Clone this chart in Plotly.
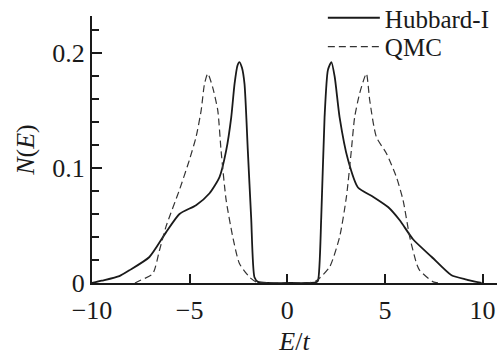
import plotly.graph_objects as go

# Hubbard-I (solid)
hub_E = [-10, -9.5, -8.6, -8.09, -7.06, -6.21, -5.52, -4.67, -3.98, -3.47, -3.13, -2.87, -2.70, -2.55,
         -2.45, -2.32, -2.19, -2.02, -1.85, -1.68, -1.5, -1.0, 0, 1.0, 1.45, 1.57, 1.74, 1.91, 2.08, 2.26,
         2.43, 2.68, 3.11, 3.62, 4.39, 5.16, 5.76, 6.44, 7.40, 8.41, 9.18, 9.95]
hub_N = [0, 0.002, 0.006, 0.011, 0.0226, 0.044, 0.060, 0.0676, 0.078, 0.092, 0.115, 0.144, 0.173, 0.189,
         0.192, 0.187, 0.173, 0.115, 0.057, 0.005, 0.001, 0, 0, 0, 0.0005, 0.002, 0.057, 0.144, 0.185, 0.192,
         0.179, 0.144, 0.107, 0.083, 0.075, 0.066, 0.0545, 0.038, 0.0226, 0.0067, 0.003, 0]

# QMC (dashed)
qmc_E = [-7.8, -7.57, -6.89, -6.55, -6.21, -5.52, -5.01, -4.67, -4.41, -4.24, -4.07, -3.82, -3.56, -3.39,
         -3.13, -2.79, -2.45, -1.93, -1.6, -1.0, 0, 1.0, 1.49, 2.17, 2.68, 3.03, 3.28, 3.45, 3.71, 4.05,
         4.22, 4.56, 5.08, 5.59, 5.93, 6.27, 6.62, 6.78, 7.47, 7.8]
qmc_N = [0, 0.002, 0.008, 0.028, 0.049, 0.081, 0.107, 0.127, 0.150, 0.173, 0.182, 0.170, 0.150, 0.115,
         0.072, 0.040, 0.0169, 0.005, 0.001, 0, 0, 0, 0.002, 0.014, 0.040, 0.075, 0.115, 0.144, 0.165, 0.182,
         0.159, 0.127, 0.1125, 0.092, 0.072, 0.040, 0.0169, 0.011, 0.001, 0]

x_ticks = [-10, -5, 0, 5, 10]
x_ticktext = ["\u221210", "\u22125", "0", "5", "10"]
y_ticks = [0, 0.1, 0.2]
y_ticktext = ["0", "0.1", "0.2"]

FONT = "Times New Roman"
INK = "#1a1a1a"

fig = go.Figure()
fig.add_trace(go.Scatter(x=hub_E, y=hub_N, mode="lines", name="Hubbard-I", legend="legend",
                         line=dict(color=INK, width=1.8, shape="spline", smoothing=0.6)))
fig.add_trace(go.Scatter(x=qmc_E, y=qmc_N, mode="lines", name="QMC", legend="legend2",
                         line=dict(color="#333333", width=1.2, dash="7px,4px", shape="spline", smoothing=0.6)))

leg_common = dict(xanchor="left", yanchor="middle", bgcolor="rgba(0,0,0,0)",
                  itemwidth=52, borderwidth=0, font=dict(family=FONT, size=25, color=INK))

fig.update_layout(
    width=497, height=356,
    margin=dict(l=92, r=0, t=16, b=73, autoexpand=False),
    plot_bgcolor="white", paper_bgcolor="white",
    font=dict(family=FONT, size=26, color=INK),
    showlegend=True,
    hovermode=False,
    legend=dict(x=0.570, y=0.9925, **leg_common),
    legend2=dict(x=0.570, y=0.884, **leg_common),
    xaxis=dict(range=[-10, 10.74], showgrid=False, zeroline=False, showline=True, automargin=False,
               linecolor=INK, linewidth=2, ticks="inside", ticklen=9, tickwidth=1.5,
               tickcolor=INK, tickvals=x_ticks, ticktext=x_ticktext, ticklabeloverflow="allow",
               ticklabelstandoff=3,
               tickfont=dict(family=FONT, size=26, color=INK),
               title=dict(text="<i>E</i>/<i>t</i>", font=dict(family=FONT, size=26, color=INK), standoff=11)),
    yaxis=dict(range=[0, 0.232], showgrid=False, zeroline=False, showline=True, automargin=False,
               linecolor=INK, linewidth=2, ticks="inside", ticklen=10, tickwidth=1.5,
               tickcolor=INK, tickvals=y_ticks, ticktext=y_ticktext, ticklabeloverflow="allow",
               tickfont=dict(family=FONT, size=26, color=INK),
               minor=dict(ticks="inside", ticklen=7, tickwidth=1.5, tickcolor=INK, dtick=0.02,
                          showgrid=False),
               title=dict(text="<i>N</i>(<i>E</i>)", font=dict(family=FONT, size=26, color=INK), standoff=10)),
)

fig.write_html("out.html", config={"displayModeBar": False},
               post_script="document.body.style.margin='0px';")
